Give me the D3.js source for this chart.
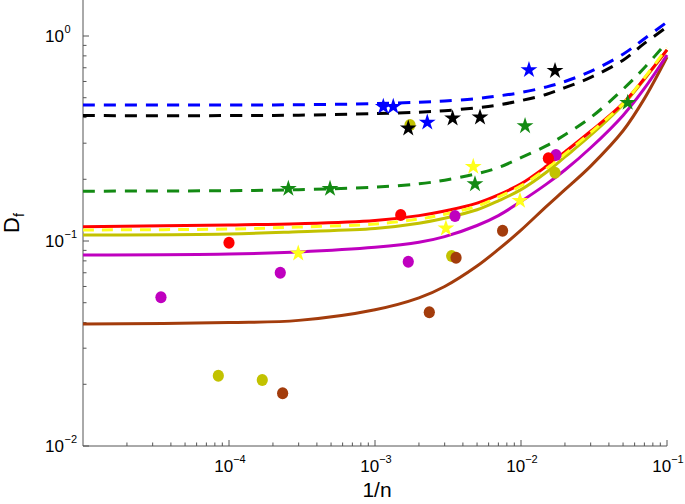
<!DOCTYPE html>
<html><head><meta charset="utf-8">
<script src="https://cdn.jsdelivr.net/npm/d3@7"></script>
<style>body{margin:0;background:#fff;} text{font-family:"Liberation Sans",Arial,Helvetica,sans-serif;}</style>
</head><body><svg id="c" width="685" height="504"></svg>
<script>
// ---- data ----
const curveX     = [1e-5,  1e-4,  3e-4,  1e-3,  2e-3,  3e-3,  5e-3,  7e-3,  1e-2,  1.5e-2, 2e-2,  3e-2,  5e-2,  7e-2,  1e-1];
const blueFit    = [0.461, 0.461, 0.462, 0.468, 0.475, 0.482, 0.495, 0.510, 0.530, 0.565, 0.600, 0.672, 0.815, 0.970, 1.170];
const blackFit   = [0.409, 0.409, 0.411, 0.418, 0.425, 0.432, 0.447, 0.461, 0.484, 0.520, 0.560, 0.628, 0.762, 0.920, 1.106];
const greenFit   = [0.175, 0.176, 0.178, 0.183, 0.190, 0.198, 0.213, 0.228, 0.255, 0.292, 0.330, 0.400, 0.550, 0.700, 0.935];
const redFit     = [0.1174,0.1197,0.1215,0.126, 0.133, 0.140, 0.153, 0.168, 0.190, 0.232, 0.272, 0.343, 0.470, 0.620, 0.855];
const yellowFit  = [0.1132,0.1144,0.117, 0.121, 0.128, 0.135, 0.148, 0.164, 0.186, 0.226, 0.266, 0.338, 0.468, 0.625, 0.874];
const oliveFit   = [0.1070,0.1082,0.111, 0.115, 0.122, 0.129, 0.142, 0.157, 0.178, 0.217, 0.257, 0.328, 0.462, 0.615, 0.855];
const magentaFit = [0.0855,0.0864,0.0885,0.0932,0.0985,0.105, 0.119, 0.133, 0.156, 0.190, 0.222, 0.285, 0.410, 0.555, 0.808];
const brownFit   = [0.0394,0.0400,0.0410,0.0462,0.0528,0.0600,0.0755,0.0910,0.113, 0.148, 0.178, 0.232, 0.345, 0.495, 0.790];

const blueStarX  = [1.14e-3, 1.334e-3, 2.28e-3, 1.134e-2];
const blueStarY  = [0.452, 0.452, 0.379, 0.683];
const blackStarX = [1.69e-3, 3.40e-3, 5.24e-3, 1.71e-2];
const blackStarY = [0.3546, 0.3968, 0.4013, 0.677];
const greenStarX = [2.55e-4, 4.92e-4, 4.84e-3, 1.066e-2, 5.38e-2];
const greenStarY = [0.180, 0.180, 0.1897, 0.364, 0.4727];
const yellowStarX = [2.98e-4, 3.06e-3, 4.71e-3, 9.84e-3];
const yellowStarY = [0.0871, 0.1153, 0.2304, 0.1573];

const redDotX = [1e-4, 1.5e-3, 1.54e-2];
const redDotY = [0.098, 0.1339, 0.2531];
const magentaDotX = [3.42e-5, 2.245e-4, 1.69e-3, 3.53e-3, 1.737e-2];
const magentaDotY = [0.0531, 0.070, 0.0793, 0.1324, 0.2627];
const oliveDotX = [8.45e-5, 1.69e-4, 1.737e-3, 3.35e-3, 1.71e-2];
const oliveDotY = [0.0220, 0.0210, 0.368, 0.0845, 0.2154];
const brownDotX = [2.33e-4, 2.355e-3, 3.59e-3, 7.48e-3];
const brownDotY = [0.0181, 0.0449, 0.0829, 0.1123];

const xTickVals = [1e-4, 1e-3, 1e-2, 1e-1];
const xTickExp  = ["\u22124", "\u22123", "\u22122", "\u22121"];
const yTickVals = [1e-2, 1e-1, 1e0];
const yTickExp  = ["\u22122", "\u22121", "0"];

// ---- layout ----
const svg = d3.select("#c");
const L = 83, R = 667, T = 0, B = 446;
const x = d3.scaleLog().domain([1e-5, 1e-1]).range([L, R]);
const y = d3.scaleLog().domain([0.01, Math.pow(10, 446/205 - 2)]).range([B, T]);

const COL = {blue:"#0000ff", black:"#000000", green:"#138a13", red:"#ff0000",
  yellow:"#ffff1a", olive:"#c2c200", magenta:"#bf00bf", brown:"#a33c0c"};

svg.append("defs").append("clipPath").attr("id","clip")
  .append("rect").attr("x",L).attr("y",T).attr("width",R-L+4).attr("height",B-T);

// axes
const axCol = "#555";
const g = svg.append("g");
g.append("line").attr("x1",L).attr("x2",R).attr("y1",B).attr("y2",B).attr("stroke",axCol);
g.append("line").attr("x1",L).attr("x2",L).attr("y1",T).attr("y2",B).attr("stroke",axCol);

const xMinor = [];
for (let e=-5; e<-1; e++) for (let k=2;k<=9;k++) xMinor.push(k*Math.pow(10,e));
g.selectAll(".xmin").data(xMinor).join("line")
  .attr("x1",d=>x(d)).attr("x2",d=>x(d)).attr("y1",B).attr("y2",B-3.5).attr("stroke",axCol);
g.selectAll(".xmaj").data(xTickVals).join("line")
  .attr("x1",d=>x(d)).attr("x2",d=>x(d)).attr("y1",B).attr("y2",B-6).attr("stroke",axCol);
const yMinor = [];
for (let e=-2; e<=0; e++) for (let k=2;k<=9;k++){ const v=k*Math.pow(10,e); if (v<y.domain()[1]) yMinor.push(v); }
g.selectAll(".ymin").data(yMinor).join("line")
  .attr("x1",L).attr("x2",L+3.5).attr("y1",d=>y(d)).attr("y2",d=>y(d)).attr("stroke",axCol);
g.selectAll(".ymaj").data(yTickVals).join("line")
  .attr("x1",L).attr("x2",L+6).attr("y1",d=>y(d)).attr("y2",d=>y(d)).attr("stroke",axCol);

xTickVals.forEach((v,i)=>{
  const t = svg.append("text").attr("x",x(v)+1).attr("y",472).attr("text-anchor","middle")
    .attr("font-size",17).attr("fill","#000");
  t.append("tspan").text("10");
  t.append("tspan").attr("font-size",11).attr("dy",-9).text(xTickExp[i]);
});
yTickVals.forEach((v,i)=>{
  const yy = y(v);
  svg.append("text").attr("x",64).attr("y",yy+6).attr("text-anchor","end")
    .attr("font-size",17).attr("fill","#000").text("10");
  svg.append("text").attr("x",64.5).attr("y",yy-3).attr("text-anchor","start")
    .attr("font-size",11).attr("fill","#000").text(yTickExp[i]);
});

svg.append("text").attr("x",377).attr("y",497).attr("text-anchor","middle")
  .attr("font-size",21).attr("fill","#000").text("1/n");
const yl = svg.append("text").attr("transform","translate(19,223) rotate(-90)")
  .attr("text-anchor","middle").attr("font-size",22).attr("fill","#000");
yl.append("tspan").text("D");
yl.append("tspan").attr("font-size",14).attr("dy",5).text("f");

// fit lines
const lineGen = d3.line().x(d=>x(d[0])).y(d=>y(d[1])).curve(d3.curveCatmullRom.alpha(0.5));
const plot = svg.append("g").attr("clip-path","url(#clip)");
const fits = [
  {v:brownFit, c:COL.brown, dash:null},
  {v:magentaFit, c:COL.magenta, dash:null},
  {v:oliveFit, c:COL.olive, dash:null},
  {v:redFit, c:COL.red, dash:null},
  {v:yellowFit, c:COL.yellow, dash:"11,8"},
  {v:greenFit, c:COL.green, dash:"12,9"},
  {v:blackFit, c:COL.black, dash:"12,9"},
  {v:blueFit, c:COL.blue, dash:"12,9"}
];
fits.forEach(f=>{
  plot.append("path").datum(curveX.map((xv,i)=>[xv,f.v[i]]))
    .attr("d",lineGen).attr("fill","none").attr("stroke",f.c).attr("stroke-width",3)
    .attr("stroke-dasharray",f.dash);
});

const dots = [
  {xs:oliveDotX, ys:oliveDotY, c:COL.olive},
  {xs:magentaDotX, ys:magentaDotY, c:COL.magenta},
  {xs:brownDotX, ys:brownDotY, c:COL.brown},
  {xs:redDotX, ys:redDotY, c:COL.red}
];
dots.forEach(s=>{
  plot.selectAll(null).data(s.xs.map((xv,i)=>[xv,s.ys[i]])).join("ellipse")
    .attr("cx",d=>x(d[0])).attr("cy",d=>y(d[1])).attr("rx",5.6).attr("ry",6).attr("fill",s.c);
});
const star = d3.symbol().type(d3.symbolStar).size(88);
const stars = [
  {xs:greenStarX, ys:greenStarY, c:COL.green},
  {xs:yellowStarX, ys:yellowStarY, c:COL.yellow},
  {xs:blackStarX, ys:blackStarY, c:COL.black},
  {xs:blueStarX, ys:blueStarY, c:COL.blue}
];
stars.forEach(s=>{
  plot.selectAll(null).data(s.xs.map((xv,i)=>[xv,s.ys[i]])).join("path")
    .attr("transform",d=>`translate(${x(d[0])},${y(d[1])})`).attr("d",star).attr("fill",s.c);
});
</script></body></html>
